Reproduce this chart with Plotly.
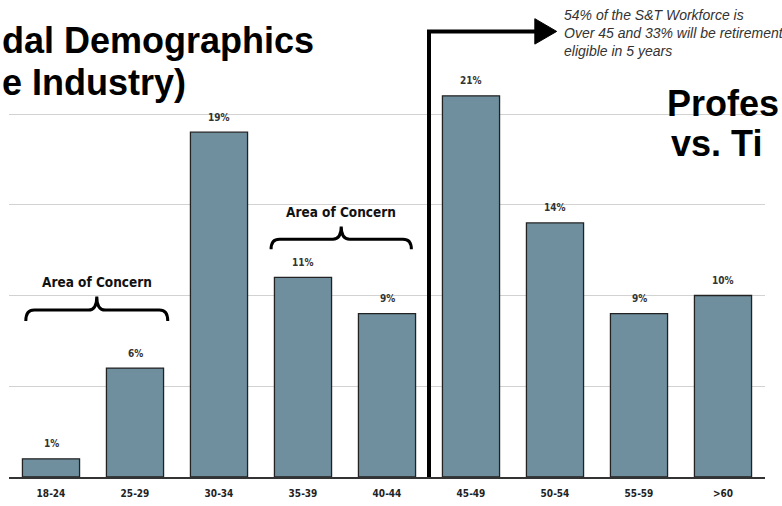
import plotly.graph_objects as go

# Age bands and share of the S&T workforce (%)
age_bands = ["18-24", "25-29", "30-34", "35-39", "40-44", "45-49", "50-54", "55-59", ">60"]
share_pct = [1, 6, 19, 11, 9, 21, 14, 9, 10]
share_labels = ["1%", "6%", "19%", "11%", "9%", "21%", "14%", "9%", "10%"]

BAR_COLOR = "#6f8f9f"
NARROW = "Liberation Sans Narrow, Arial Narrow, DejaVu Sans Condensed, sans-serif"
SANS = "Liberation Sans, Arial, sans-serif"

W, H = 782, 506
M_L, M_R, M_T, M_B = 9, 17, 0, 29
PLOT_H = H - M_T - M_B
Y_TOP = PLOT_H / 18.15

idx = list(range(len(age_bands)))

fig = go.Figure()
fig.add_trace(go.Bar(
    x=idx, y=share_pct, width=0.68,
    marker=dict(color=BAR_COLOR, line=dict(color="#222222", width=1.3)),
    hoverinfo="skip", showlegend=False,
))

annotations = []
# value labels above each bar
for i, (v, lab) in enumerate(zip(share_pct, share_labels)):
    annotations.append(dict(
        x=i, y=v, xref="x", yref="y", text=lab, showarrow=False,
        yanchor="middle", yshift=15,
        font=dict(family=NARROW, size=10, color="#333333", weight="bold"),
    ))


def px_x(p):
    return (p - M_L) / (W - M_L - M_R)


def px_y(p):
    return (H - M_B - p) / PLOT_H


# headline fragments
title_font = dict(family=SANS, size=36, color="#000000", weight="bold")
for txt, xa, xp, yp in [("dal Demographics", "left", 0, 40), ("e Industry)", "left", 0, 82),
                        ("Profes", "right", 781, 103), ("vs. Ti", "left", 669, 143)]:
    annotations.append(dict(
        x=px_x(xp), y=px_y(yp), xref="paper", yref="paper", text=txt,
        showarrow=False, xanchor=xa, yanchor="middle", font=title_font,
    ))

# call-out text next to the arrow
annotations.append(dict(
    x=px_x(562), y=px_y(33), xref="paper", yref="paper",
    text="<i>54% of the S&T Workforce is<br>Over 45 and 33% will be retirement<br>eligible in 5 years</i>",
    showarrow=False, xanchor="left", yanchor="middle", align="left",
    font=dict(family=SANS, size=14, color="#333333"),
))


def brace(x0, x1, yb, ym, yt, d=0.1):
    xm = (x0 + x1) / 2
    return (f"M {x0},{yb} Q {x0},{ym} {x0 + d},{ym} L {xm - d},{ym} "
            f"Q {xm},{ym} {xm},{yt} Q {xm},{ym} {xm + d},{ym} "
            f"L {x1 - d},{ym} Q {x1},{ym} {x1},{yb}")


shapes = []
concern = [(-0.3, 1.39, 8.6, 9.2, 9.95, 10.75), (2.62, 4.29, 12.55, 13.1, 13.8, 14.6)]
for x0, x1, yb, ym, yt, ylab in concern:
    shapes.append(dict(type="path", xref="x", yref="y", path=brace(x0, x1, yb, ym, yt),
                       line=dict(color="#000000", width=3)))
    annotations.append(dict(
        x=(x0 + x1) / 2, y=ylab, xref="x", yref="y", text="Area of Concern",
        showarrow=False, yanchor="middle",
        font=dict(family=NARROW, size=13.5, color="#111111", weight="bold"),
    ))

# divider between under-45 and over-45 with arrow to the call-out
arrow_y = 24.55
shapes.append(dict(type="path", xref="x", yref="y",
                   path=f"M 4.5,0 L 4.5,{arrow_y} L 5.78,{arrow_y}",
                   line=dict(color="#000000", width=4)))
shapes.append(dict(type="path", xref="x", yref="y",
                   path=f"M 5.76,{arrow_y + 0.7} L 6.02,{arrow_y} L 5.76,{arrow_y - 0.7} Z",
                   fillcolor="#000000", line=dict(color="#000000", width=1)))

fig.update_layout(
    width=W, height=H,
    margin=dict(l=M_L, r=M_R, t=M_T, b=M_B),
    paper_bgcolor="white", plot_bgcolor="white",
    bargap=0.32,
    xaxis=dict(
        range=[-0.5, 8.5], tickmode="array", tickvals=idx, ticktext=age_bands,
        ticks="outside", ticklen=6, tickcolor="rgba(0,0,0,0)",
        tickfont=dict(family=NARROW, size=10, color="#222222", weight="bold"),
        showline=True, linecolor="#333333", linewidth=1.5,
        showgrid=False, zeroline=False, fixedrange=True,
    ),
    yaxis=dict(
        range=[0, Y_TOP], tickvals=[5, 10, 15, 20], showticklabels=False,
        showgrid=True, gridcolor="#d2d2d2", gridwidth=1,
        zeroline=False, showline=False, fixedrange=True,
    ),
    annotations=annotations,
    shapes=shapes,
)

fig.write_html("out.html")
